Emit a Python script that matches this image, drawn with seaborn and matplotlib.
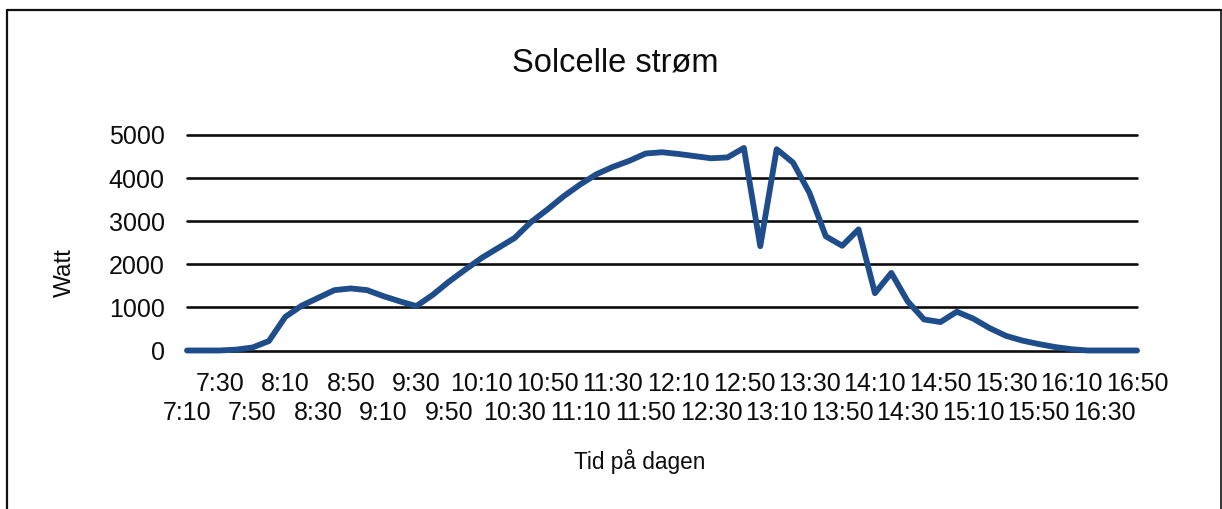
import matplotlib
matplotlib.use("Agg")
import matplotlib.pyplot as plt
import seaborn as sns
import pandas as pd
from matplotlib.lines import Line2D

times = ["7:10", "7:20", "7:30", "7:40", "7:50", "8:00", "8:10", "8:20", "8:30", "8:40",
         "8:50", "9:00", "9:10", "9:20", "9:30", "9:40", "9:50", "10:00", "10:10", "10:20",
         "10:30", "10:40", "10:50", "11:00", "11:10", "11:20", "11:30", "11:40", "11:50", "12:00",
         "12:10", "12:20", "12:30", "12:40", "12:50", "13:00", "13:10", "13:20", "13:30", "13:40",
         "13:50", "14:00", "14:10", "14:20", "14:30", "14:40", "14:50", "15:00", "15:10", "15:20",
         "15:30", "15:40", "15:50", "16:00", "16:10", "16:20", "16:30", "16:40", "16:50"]
watt = [0, 0, 0, 20, 70, 220, 780, 1040, 1220, 1400,
        1440, 1400, 1260, 1140, 1030, 1290, 1600, 1880, 2150, 2380,
        2610, 2980, 3270, 3580, 3850, 4090, 4260, 4400, 4570, 4600,
        4560, 4510, 4460, 4480, 4700, 2420, 4670, 4360, 3660, 2650,
        2430, 2810, 1330, 1800, 1140, 720, 660, 900, 740, 520,
        340, 230, 150, 80, 30, 0, 0, 0, 0]
yticks = [0, 1000, 2000, 3000, 4000, 5000]

title = "Solcelle strøm"
ylabel = "Watt"
xlabel = "Tid på dagen"

sns.set_style("white")
plt.rcParams["font.family"] = ["Liberation Sans", "DejaVu Sans"]

W, H = 1222, 509
fig = plt.figure(figsize=(W / 100, H / 100), dpi=100)
fig.patch.set_facecolor("white")

left, right, top, bottom = 187, 1137, 135, 350.5
ax = fig.add_axes([left / W, 1 - bottom / H, (right - left) / W, (bottom - top) / H])

df = pd.DataFrame({"idx": range(len(times)), "watt": watt})
ax.set_ylim(0, 5000)
ax.set_xlim(0, len(times) - 1)

for v in yticks:
    ax.axhline(v, color="#0d0d0d", lw=1.9, zorder=1, clip_on=False)

sns.lineplot(data=df, x="idx", y="watt", ax=ax, color="#1F4C8A", lw=4.2,
             zorder=3, clip_on=False)
for ln in ax.lines[-1:]:
    ln.set_solid_joinstyle("round")
    ln.set_clip_on(False)

ax.set_yticks(yticks)
ax.set_yticklabels([str(v) for v in yticks], fontsize=18, color="#0d0d0d")
ax.tick_params(axis="y", length=6, width=1, color="#cccccc", pad=10)

# labels every 20 minutes, alternating between an upper and a lower row
upper_idx = list(range(2, len(times), 4))
lower_idx = list(range(0, len(times), 4))
ax.set_xticks(upper_idx)
ax.set_xticklabels([times[i] for i in upper_idx], fontsize=18, color="#0d0d0d")
ax.set_xticks(lower_idx, minor=True)
ax.set_xticklabels([times[i] for i in lower_idx], minor=True, fontsize=18, color="#0d0d0d")
ax.tick_params(axis="x", which="major", length=0, pad=15.5)
ax.tick_params(axis="x", which="minor", length=0, pad=36.5)
ax.set_xlabel("")
ax.set_ylabel("")
for s in ax.spines.values():
    s.set_visible(False)

fig.text(615 / W, 1 - 63 / H, title, ha="center", va="center", fontsize=23.5, color="#0d0d0d")
fig.text(65 / W, 1 - 273 / H, ylabel, ha="center", va="center", rotation=90,
         fontsize=17.5, color="#0d0d0d")
fig.text(640 / W, 1 - 461 / H, xlabel, ha="center", va="center", fontsize=16.3,
         color="#0d0d0d")

# outer frame
fx0, fy0, fx1 = 7.5, 9.5, 1220.5
fig.add_artist(Line2D([fx0 / W, fx0 / W], [0, 1 - fy0 / H], transform=fig.transFigure,
                      color="#111111", lw=1.6))
fig.add_artist(Line2D([fx0 / W, fx1 / W], [1 - fy0 / H, 1 - fy0 / H], transform=fig.transFigure,
                      color="#111111", lw=1.6))
fig.add_artist(Line2D([fx1 / W, fx1 / W], [0, 1 - fy0 / H], transform=fig.transFigure,
                      color="#111111", lw=1.2))

fig.savefig("out.png", dpi=100, facecolor="white")
